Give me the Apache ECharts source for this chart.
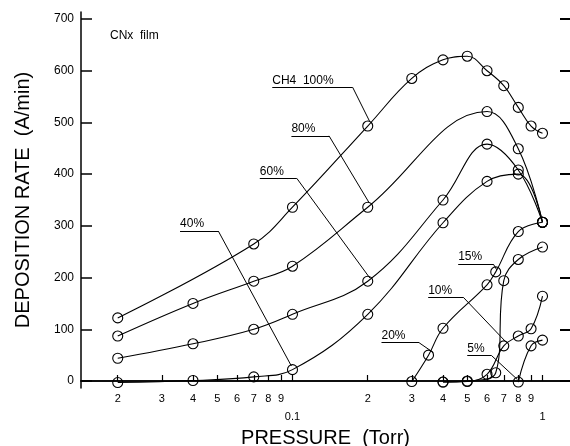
<!DOCTYPE html>
<html>
<head>
<meta charset="utf-8">
<style>
  html, body { margin: 0; padding: 0; background: #fff; }
  #main { width: 570px; height: 446px; }
</style>
<script src="https://cdn.jsdelivr.net/npm/echarts@6/dist/echarts.min.js"></script>
</head>
<body>
<div id="main"></div>
<script>
// 压力刻度（对数轴），小数值只标数字，整十位另起一行
var xTickValues = [0.02, 0.03, 0.04, 0.05, 0.06, 0.07, 0.08, 0.09, 0.1,
    0.2, 0.3, 0.4, 0.5, 0.6, 0.7, 0.8, 0.9, 1];
var xTickLabels = ['2', '3', '4', '5', '6', '7', '8', '9', '\n0.1',
    '2', '3', '4', '5', '6', '7', '8', '9', '\n1'];
var yTickValues = [0, 100, 200, 300, 400, 500, 600, 700];

// 各 CH4 浓度下的沉积速率 (A/min)
var ch4_100_x = [0.02, 0.07, 0.1, 0.2, 0.3, 0.4, 0.5, 0.6, 0.7, 0.8, 0.9, 1.0];
var ch4_100_y = [122, 265, 336, 493, 585, 621, 628, 600, 571, 529, 493, 479];

var ch4_80_x = [0.02, 0.04, 0.07, 0.1, 0.2, 0.6, 0.8, 1.0];
var ch4_80_y = [87, 150, 193, 222, 336, 521, 449, 307];

var ch4_60_x = [0.02, 0.04, 0.07, 0.1, 0.2, 0.4, 0.6, 0.8, 1.0];
var ch4_60_y = [44, 72, 100, 129, 193, 350, 458, 408, 307];

var ch4_40_x = [0.02, 0.04, 0.07, 0.1, 0.2, 0.4, 0.6, 0.8, 1.0];
var ch4_40_y = [-3, 1, 8, 22, 129, 306, 386, 400, 307];

var ch4_20_x = [0.3, 0.35, 0.4, 0.6, 0.65, 0.8, 1.0];
var ch4_20_y = [-1, 50, 102, 186, 211, 289, 307];

var ch4_15_x = [0.4, 0.5, 0.65, 0.7, 0.8, 1.0];
var ch4_15_y = [-2, 0, 16, 194, 235, 259];

var ch4_10_x = [0.4, 0.5, 0.6, 0.7, 0.8, 0.9, 1.0];
var ch4_10_y = [-2, -1, 13, 68, 87, 101, 164];

var ch4_5_x = [0.8, 0.9, 1.0];
var ch4_5_y = [-2, 68, 79];

// 标注引线（数据坐标）：起点、折点、终点
var leader_100 = [[0.083, 568], [0.174, 568], [0.204, 501]];
var leader_80 = [[0.099, 474], [0.140, 474], [0.203, 344]];
var leader_60 = [[0.074, 392], [0.104, 392], [0.204, 199]];
var leader_40 = [[0.0355, 290], [0.0505, 290], [0.099, 29]];
var leader_20 = [[0.227, 74], [0.321, 74], [0.366, 55]];
var leader_15 = [[0.460, 226], [0.636, 226], [0.656, 215]];
var leader_10 = [[0.349, 162], [0.482, 162], [0.719, 74]];
var leader_5 = [[0.500, 49], [0.626, 49], [0.793, 3]];

var FONT = 'Liberation Sans';

function zip(xs, ys) {
    var out = [];
    for (var i = 0; i < xs.length; i++) {
        out.push([xs[i], ys[i]]);
    }
    return out;
}

// 引线：第一段是文字下划线，第二段斜线指向数据点
function leaderLine(text, pts) {
    return {
        silent: true,
        symbol: ['none', 'none'],
        lineStyle: { color: '#000', width: 1, type: 'solid' },
        label: {
            show: true,
            position: 'insideStartTop',
            distance: [0, 1],
            formatter: text,
            color: '#000',
            fontFamily: FONT,
            fontSize: 12
        },
        emphasis: { disabled: true },
        data: [
            [{ coord: pts[0] }, { coord: pts[1] }],
            [{ coord: pts[1], label: { show: false } }, { coord: pts[2] }]
        ]
    };
}

function makeSeries(name, xs, ys, leaderText, leaderPts) {
    return {
        name: name,
        type: 'line',
        smooth: 0.4,
        data: zip(xs, ys),
        symbol: 'circle',
        symbolSize: 10,
        showAllSymbol: true,
        lineStyle: { color: '#000', width: 1.1 },
        itemStyle: { color: 'rgba(0,0,0,0)', borderColor: '#000', borderWidth: 1.1 },
        emphasis: { disabled: true },
        markLine: leaderLine(leaderText, leaderPts),
        z: 2
    };
}

function xLabel(value) {
    for (var i = 0; i < xTickValues.length; i++) {
        if (Math.abs(value - xTickValues[i]) < xTickValues[i] * 1e-3) {
            return xTickLabels[i];
        }
    }
    return '';
}

var option = {
    backgroundColor: '#fff',
    animation: false,
    title: {
        text: 'CNx  film',
        left: 105,
        top: 25,
        textStyle: { fontFamily: FONT, fontSize: 12, fontWeight: 'normal', color: '#000' }
    },
    grid: { left: 81, right: 0, top: 12, bottom: 58, outerBoundsMode: 'none' },
    xAxis: [{
        type: 'log',
        logBase: 10,
        min: 0.01426,
        max: 1.2882,
        position: 'bottom',
        name: 'PRESSURE  (Torr)',
        nameLocation: 'middle',
        nameGap: 40,
        nameMoveOverlap: false,
        nameTextStyle: { fontFamily: FONT, fontSize: 20, color: '#000' },
        axisLine: { show: true, lineStyle: { color: '#000', width: 1.5 } },
        axisTick: {
            show: true, inside: true, length: 6,
            customValues: xTickValues,
            lineStyle: { color: '#000', width: 1.2 }
        },
        axisLabel: {
            customValues: xTickValues,
            formatter: xLabel,
            color: '#000',
            fontFamily: FONT,
            fontSize: 11,
            lineHeight: 18,
            margin: 2
        },
        minorTick: { show: false },
        splitLine: { show: false }
    }, {
        type: 'value',
        position: 'top',
        min: 0,
        max: 1,
        axisLine: { show: true, lineStyle: { color: '#000', width: 1.5 } },
        axisTick: { show: false },
        axisLabel: { show: false },
        splitLine: { show: false }
    }],
    yAxis: [{
        type: 'value',
        min: -13.5,
        max: 713.5,
        position: 'left',
        name: 'DEPOSITION RATE  (A/min)',
        nameLocation: 'middle',
        nameGap: 48,
        nameMoveOverlap: false,
        nameTextStyle: { fontFamily: FONT, fontSize: 20, color: '#000' },
        axisLine: { show: true, lineStyle: { color: '#000', width: 1.5 } },
        axisTick: {
            show: true, inside: true, length: 11,
            customValues: yTickValues,
            lineStyle: { color: '#000', width: 1.5 }
        },
        axisLabel: {
            customValues: yTickValues,
            color: '#000',
            fontFamily: FONT,
            fontSize: 12,
            margin: 7
        },
        splitLine: { show: false }
    }, {
        type: 'value',
        min: -13.5,
        max: 713.5,
        position: 'right',
        axisLine: { show: false },
        axisTick: {
            show: true, inside: true, length: 10,
            customValues: yTickValues,
            lineStyle: { color: '#000', width: 2 }
        },
        axisLabel: { show: false },
        splitLine: { show: false }
    }],
    series: [
        makeSeries('CH4 100%', ch4_100_x, ch4_100_y, 'CH4  100%', leader_100),
        makeSeries('80%', ch4_80_x, ch4_80_y, '80%', leader_80),
        makeSeries('60%', ch4_60_x, ch4_60_y, '60%', leader_60),
        makeSeries('40%', ch4_40_x, ch4_40_y, '40%', leader_40),
        makeSeries('20%', ch4_20_x, ch4_20_y, '20%', leader_20),
        makeSeries('15%', ch4_15_x, ch4_15_y, '15%', leader_15),
        makeSeries('10%', ch4_10_x, ch4_10_y, '10%', leader_10),
        makeSeries('5%', ch4_5_x, ch4_5_y, '5%', leader_5)
    ]
};

var myChart = echarts.init(document.getElementById('main'));
myChart.setOption(option);
</script>
</body>
</html>
